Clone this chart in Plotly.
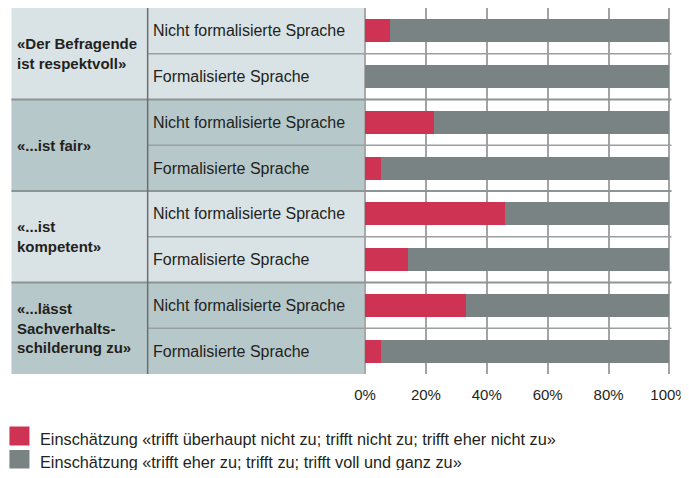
import plotly.graph_objects as go

# ---- data ----
groups = ["«Der Befragende<br>ist respektvoll»", "«...ist fair»",
          "«...ist<br>kompetent»", "«...lässt<br>Sachverhalts-<br>schilderung zu»"]
rows = ["Nicht formalisierte Sprache", "Formalisierte Sprache"] * 4
neg_share = [8.2, 0.0, 22.7, 5.3, 46.0, 14.1, 33.2, 5.3]
pos_share = [100 - v for v in neg_share]
series_names = ["Einschätzung «trifft überhaupt nicht zu; trifft nicht zu; trifft eher nicht zu»",
                "Einschätzung «trifft eher zu; trifft zu; trifft voll und ganz zu»"]
tick_vals = [0, 20, 40, 60, 80, 100]
tick_text = ["0%", "20%", "40%", "60%", "80%", "100%"]

RED = "#cf3354"
GREY = "#798383"
BG_LIGHT = "#d9e2e4"
BG_DARK = "#b6c8ca"
FONT = "Liberation Sans, Arial, sans-serif"
TXT = "#231f20"

# the page has an 8px body margin; all target positions below are page pixels
OFF = 8
W, H = 689 - OFF, 478 - 2 * OFF
XMAX = 100.5
L = 365 - OFF
T = 8 - OFF
PW = (669 - 365) * XMAX / 100
R = W - L - PW
B = H - (374 - OFF)
PH = H - T - B


def px(x):
    return (x - OFF - L) / PW


def py(y):
    return 1 - (y - OFF - T) / PH


ypos = list(range(len(rows)))

fig = go.Figure()
fig.add_trace(go.Bar(y=ypos, x=neg_share, orientation="h", marker_color=RED,
                     marker_line_width=0, width=0.5, name=series_names[0],
                     showlegend=False))
fig.add_trace(go.Bar(y=ypos, x=pos_share, orientation="h", marker_color=GREY,
                     marker_line_width=0, width=0.5, name=series_names[1],
                     showlegend=False))

shapes = []
ann = []
# group backgrounds
for g in range(len(groups)):
    y0 = 2 * g - 0.5
    y1 = 2 * g + 1.5
    shapes.append(dict(type="rect", xref="paper", yref="y", x0=px(12), x1=0,
                       y0=y0, y1=y1, fillcolor=BG_LIGHT if g % 2 == 0 else BG_DARK,
                       line_width=0, layer="below"))
    ann.append(dict(xref="paper", yref="y", x=px(16), y=2 * g + 0.5, text="<b>" + groups[g] + "</b>",
                    showarrow=False, xanchor="left", yanchor="middle", align="left",
                    font=dict(family=FONT, size=15, color=TXT)))

# row labels
for i, r in enumerate(rows):
    ann.append(dict(xref="paper", yref="y", x=px(151), y=i, text=r,
                    showarrow=False, xanchor="left", yanchor="middle",
                    font=dict(family=FONT, size=16, color=TXT)))

# horizontal separators
for k in range(1, len(rows)):
    yb = k - 0.5
    if k % 2 == 0:
        shapes.append(dict(type="line", xref="paper", yref="y", x0=px(12), x1=px(671),
                           y0=yb, y1=yb, line=dict(color="#8c9494", width=2), layer="above"))
    else:
        shapes.append(dict(type="line", xref="paper", yref="y", x0=px(148), x1=px(671),
                           y0=yb, y1=yb, line=dict(color="#9aa0a0", width=1.5), layer="above"))

# vertical separator between group col and row col
shapes.append(dict(type="line", xref="paper", yref="paper", x0=px(148), x1=px(148),
                   y0=0, y1=1, line=dict(color="#6e6e6e", width=1.5)))

# legend (square top/bottom, text centre in page pixels)
leg_sq = [(426.5, 445.5), (450, 468.5)]
leg_txt = [439, 462]
for j, (nm, col) in enumerate(zip(series_names, [RED, GREY])):
    shapes.append(dict(type="rect", xref="paper", yref="paper",
                       x0=px(10), x1=px(30), y0=py(leg_sq[j][1]), y1=py(leg_sq[j][0]),
                       fillcolor=col, line_width=0))
    ann.append(dict(xref="paper", yref="paper", x=px(39), y=py(leg_txt[j]), text=nm,
                    showarrow=False, xanchor="left", yanchor="middle",
                    font=dict(family=FONT, size=16.3, color=TXT)))

fig.update_layout(
    width=W, height=H, autosize=False, barmode="stack", bargap=0.5,
    margin=dict(l=L, r=R, t=T, b=B, pad=0),
    paper_bgcolor="white", plot_bgcolor="white",
    shapes=shapes, annotations=ann,
    xaxis=dict(range=[0, XMAX], tickvals=tick_vals, ticktext=tick_text,
               showgrid=True, gridcolor="#a3a3a3", gridwidth=1.5,
               zeroline=True, zerolinecolor="#a8a8a8", zerolinewidth=2,
               showline=False, ticks="", ticklabelstandoff=10,
               ticklabeloverflow="allow",
               tickfont=dict(family=FONT, size=15, color=TXT), fixedrange=True),
    yaxis=dict(range=[7.5, -0.5], showticklabels=False, showgrid=False,
               zeroline=False, showline=False, fixedrange=True),
)
fig.write_html("out.html", config={"displayModeBar": False, "responsive": False})
